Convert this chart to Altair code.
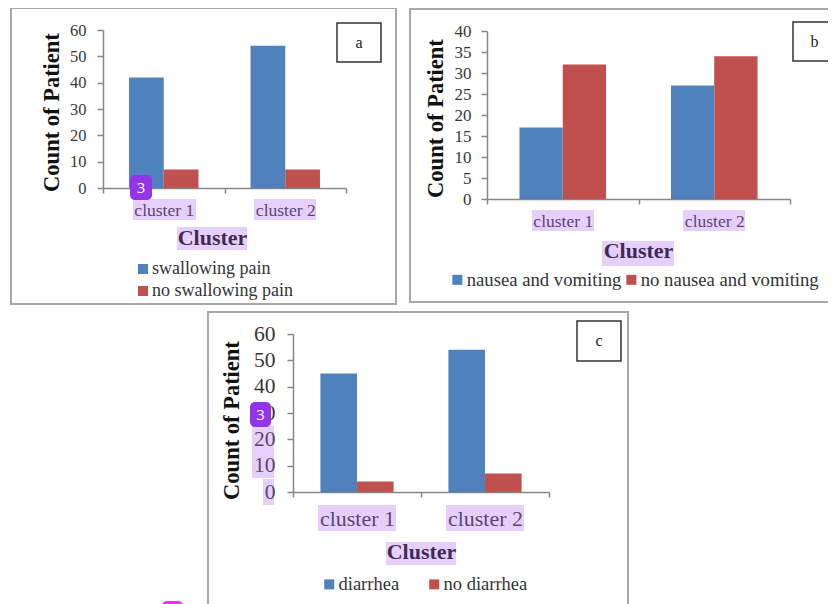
import altair as alt
import pandas as pd

clusters = ["cluster 1", "cluster 2"]

a_series = ["swallowing pain", "no swallowing pain"]
a_first = [42, 54]
a_second = [7, 7]
a_ticks = [0, 10, 20, 30, 40, 50, 60]

b_series = ["nausea and vomiting", "no nausea and vomiting"]
b_first = [17, 27]
b_second = [32, 34]
b_ticks = [0, 5, 10, 15, 20, 25, 30, 35, 40]

c_series = ["diarrhea", "no diarrhea"]
c_first = [45, 54]
c_second = [4, 7]
c_ticks = [0, 10, 20, 30, 40, 50, 60]

BLUE, RED = "#4F81BD", "#C0504D"
SERIF = "Liberation Serif"
M = 8  # page margin
W, H = 820, 596
ONE = pd.DataFrame({"k": [0]})


def rect(x0, y0, x1, y1, **kw):
    return alt.Chart(ONE).mark_rect(**kw).encode(
        x=alt.value(x0 - M), x2=alt.value(x1 - M),
        y=alt.value(y0 - M), y2=alt.value(y1 - M))


def frame(x0, y0, x1, y1):
    return rect(x0, y0, x1, y1, fillOpacity=0, stroke="#a8a8a8", strokeWidth=2)


def box(x0, y0, x1, y1, letter):
    r = rect(x0, y0, x1, y1, fill="white", stroke="#333333", strokeWidth=1.5)
    cx = (x0 + min(x1, 836)) / 2
    t = alt.Chart(ONE).mark_text(text=letter, font=SERIF, fontSize=16, color="#222222").encode(
        x=alt.value(cx - M), y=alt.value((y0 + y1) / 2 - M))
    return [r, t]


def shade(x0, y0, x1, y1):
    return rect(x0, y0, x1, y1, fill="#ac62f2", opacity=0.3)


def badge(x0, y0, x1, y1, label=None, color="#9333ea"):
    out = [rect(x0, y0, x1, y1, fill=color, cornerRadius=5)]
    if label:
        out.append(alt.Chart(ONE).mark_text(text=label, font="Open Sans", fontSize=15, color="white").encode(
            x=alt.value((x0 + x1) / 2 - M), y=alt.value((y0 + y1) / 2 - M)))
    return out


def panel(series, first, second, ticks, ymax, x0, x1, y0, y1,
          tick_font, lab_font, lab_off, lab_pad, ytitle_x, ytitle_y, xtitle_x, xtitle_y,
          legend_x, legend_y, cols, col_pad, legend_font):
    df = pd.DataFrame({
        "Cluster": clusters * 2,
        "series": [series[0]] * 2 + [series[1]] * 2,
        "count": list(first) + list(second),
    })
    return alt.Chart(df).mark_bar().encode(
        x=alt.X("Cluster:N",
                sort=clusters,
                scale=alt.Scale(domain=clusters, range=[x0 - M, x1 - M], paddingInner=0, paddingOuter=0),
                axis=alt.Axis(orient="bottom", title="Cluster", titleFont=SERIF, titleFontSize=22, titleFontWeight="bold",
                              titleColor="#111111", titleX=xtitle_x - M, titleY=xtitle_y - y0,
                              titleBaseline="middle", titleAlign="center",
                              labelFont=SERIF, labelFontSize=lab_font, labelColor="#383838", labelAngle=0,
                              labelBaseline="middle", labelPadding=lab_off, tickBand="extent",
                              tickSize=5, tickColor="#868686", domainColor="#868686", domainWidth=1.5,
                              tickWidth=1.5, grid=False, offset=y0 - M - H)),
        xOffset=alt.XOffset("series:N", sort=series,
                            scale=alt.Scale(domain=series, paddingInner=0, paddingOuter=0.75)),
        y=alt.Y("count:Q",
                scale=alt.Scale(domain=[0, ymax], range=[y0 - M, y1 - M], nice=False),
                axis=alt.Axis(orient="left", title="Count of Patient", titleFont=SERIF, titleFontSize=22.5, titleFontWeight="bold",
                              titleColor="#111111", titleAngle=270, titleBaseline="middle", titleAlign="center",
                              titleX=ytitle_x - x0, titleY=ytitle_y - M,
                              values=ticks, labelFont=SERIF, labelFontSize=tick_font, labelColor="#383838",
                              labelPadding=lab_pad, tickSize=6, tickColor="#868686", domainColor="#868686",
                              domainWidth=1.5, tickWidth=1.5, grid=False, offset=M - x0)),
        color=alt.Color("series:N", sort=series,
                        scale=alt.Scale(domain=series, range=[BLUE, RED]),
                        legend=alt.Legend(title=None, orient="none", legendX=legend_x - M - 4, legendY=legend_y - M + 2,
                                          columns=cols, columnPadding=col_pad, rowPadding=4,
                                          symbolType="square", symbolSize=100, symbolOffset=0, symbolStrokeWidth=0,
                                          labelFont=SERIF, labelFontSize=legend_font, labelColor="#333333", labelOffset=0,
                                          labelLimit=400, padding=0)),
    )


layers = [
    frame(11, 8, 396, 304),
    frame(410, 9, 860, 302),
    frame(208, 312, 628, 640),
    panel(a_series, a_first, a_second, a_ticks, 60, 103, 346, 188, 30,
          16.5, 17.5, 17, 11, 51.5, 112, 212, 237, 138, 258, 1, 5, 18),
    panel(b_series, b_first, b_second, b_ticks, 40, 487, 790, 199, 31,
          17, 17.5, 17, 10, 435.5, 118, 638, 250, 452, 268, 2, 0, 18.7),
    panel(c_series, c_first, c_second, c_ticks, 60, 293, 549, 492, 334,
          21.5, 22, 21, 12, 231, 420, 421, 551, 324, 573, 2, 25, 18.5),
    # highlight bands over the axis text
    shade(133, 199, 196, 220), shade(254, 199, 316, 220), shade(177, 227, 247, 250),
    shade(532, 210, 594, 231), shade(683, 210, 745, 231), shade(602, 241, 674, 266),
    shade(318, 505, 396, 531), shade(446, 505, 524, 531), shade(386, 542, 456, 565),
    shade(252, 426, 274, 478), shade(263, 479, 274, 505),
]
layers += box(337, 23, 381, 62, "a")
layers += box(793, 22, 860, 61, "b")
layers += box(577, 321, 621, 361, "c")
layers += badge(130, 175, 152, 200, "3")
layers += badge(250, 402, 271, 427, "3")
layers += badge(162, 601, 183, 625, None, "#e535e5")

chart = (
    alt.layer(*layers)
    .resolve_scale(x="independent", y="independent", xOffset="independent", color="independent")
    .resolve_axis(x="independent", y="independent")
    .resolve_legend(color="independent")
    .properties(width=W, height=H, padding=0, background="white",
                autosize=alt.AutoSizeParams(type="none", contains="padding"))
    .configure_view(stroke=None)
)
chart.save("out.html", embed_options={"renderer": "svg", "actions": False})
